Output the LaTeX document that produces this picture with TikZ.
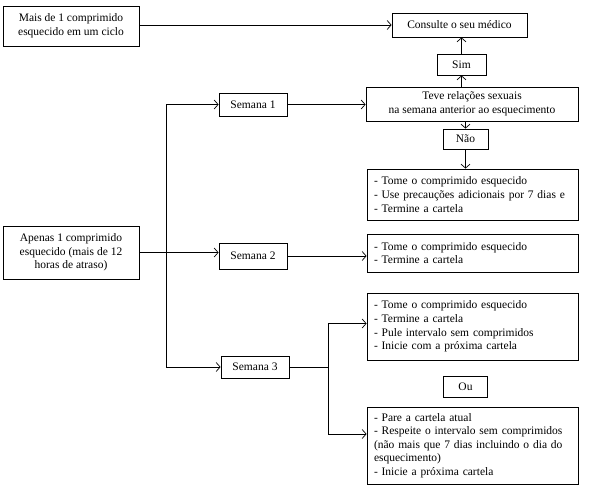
\documentclass[tikz,border=0pt]{standalone}
\usepackage{fontspec}
\setmainfont{Liberation Serif}
\usetikzlibrary{arrows.meta,calc}
\begin{document}
\begin{tikzpicture}[x=1pt,y=-1pt,
  every node/.style={font=\fontsize{11.5}{13.6}\selectfont},
  box/.style n args={2}{draw, line width=0.8pt, inner sep=0pt, minimum width=#1, minimum height=#2, align=center},
  listbox/.style n args={2}{draw, line width=0.8pt, inner ysep=0pt, inner xsep=7pt, minimum width=#1, minimum height=#2, text width=#1-14pt, align=left},
  conn/.style={line width=0.7pt},
  arr/.style={conn, -{Straight Barb[length=4pt,width=9pt]}}]
\useasboundingbox (0,0) rectangle (598,498);
\fill[white] (0,0) rectangle (598,498);
% boxes
\node[box={136pt}{40pt}] (mais) at (71,26) {Mais de 1 comprimido\\esquecido em um ciclo};
\node[box={135pt}{24pt}] (cons) at (459.5,25) {Consulte o seu médico};
\node[box={49pt}{21pt}] (sim) at (461.5,64.5) {Sim};
\node[box={212pt}{34pt}] (teve) at (472,104) {Teve relações sexuais\\na semana anterior ao esquecimento};
\node[box={45pt}{20pt}] (nao) at (465.5,139) {Não};
\node[listbox={211pt}{51pt}] (tome1) at (472.5,194.5) {\mbox{- Tome o comprimido esquecido}\\\mbox{- Use precauções adicionais por 7 dias e}\\\mbox{- Termine a cartela}};
\node[box={136pt}{53pt}] (apenas) at (71,252.5) {Apenas 1 comprimido\\esquecido (mais de 12\\horas de atraso)};
\node[box={68pt}{23pt}] (sem1) at (253,104.5) {Semana 1};
\node[box={68pt}{26pt}] (sem2) at (253,256) {Semana 2};
\node[listbox={211pt}{38pt}] (tome2) at (472.5,253) {- Tome o comprimido esquecido\\- Termine a cartela};
\node[box={68pt}{22pt}] (sem3) at (255,367) {Semana 3};
\node[listbox={211pt}{67pt}] (boxA) at (472.5,326.5) {- Tome o comprimido esquecido\\- Termine a cartela\\- Pule intervalo sem comprimidos\\- Inicie com a próxima cartela};
\node[box={44pt}{21pt}] (ou) at (465.5,386.5) {Ou};
\node[listbox={211pt}{77pt}] (boxB) at (472.5,445.5) {\mbox{- Pare a cartela atual}\\\mbox{- Respeite o intervalo sem comprimidos}\\\mbox{(não mais que 7 dias incluindo o dia do}\\\mbox{esquecimento)}\\\mbox{- Inicie a próxima cartela}};
% connectors
\draw[arr] (mais.east|-cons.west) -- (cons.west);
\draw[arr] (sim.north) -- (sim.north|-cons.south);
\draw[arr] (teve.north-|sim) -- (sim.south);
\draw[arr] (teve.south-|nao) -- (nao.north);
\draw[arr] (nao.south) -- (nao.south|-tome1.north);
\draw[arr] (sem1.east) -- (sem1.east-|teve.west);
\draw[arr] (apenas.east) -- (apenas.east-|sem2.west);
\draw[arr] (sem2.east) -- (sem2.east-|tome2.west);
\coordinate (trunk) at (166,104.5);
\draw[arr] (trunk) -- (sem1.west);
\draw[arr] (trunk) |- (sem3.west);
\coordinate (br) at (328,367);
\draw[conn] (sem3.east) -- (br);
\draw[arr] (br) |- ([yshift=3pt]boxA.west);
\draw[arr] (br) |- ([yshift=11.5pt]boxB.west);
\end{tikzpicture}
\end{document}
